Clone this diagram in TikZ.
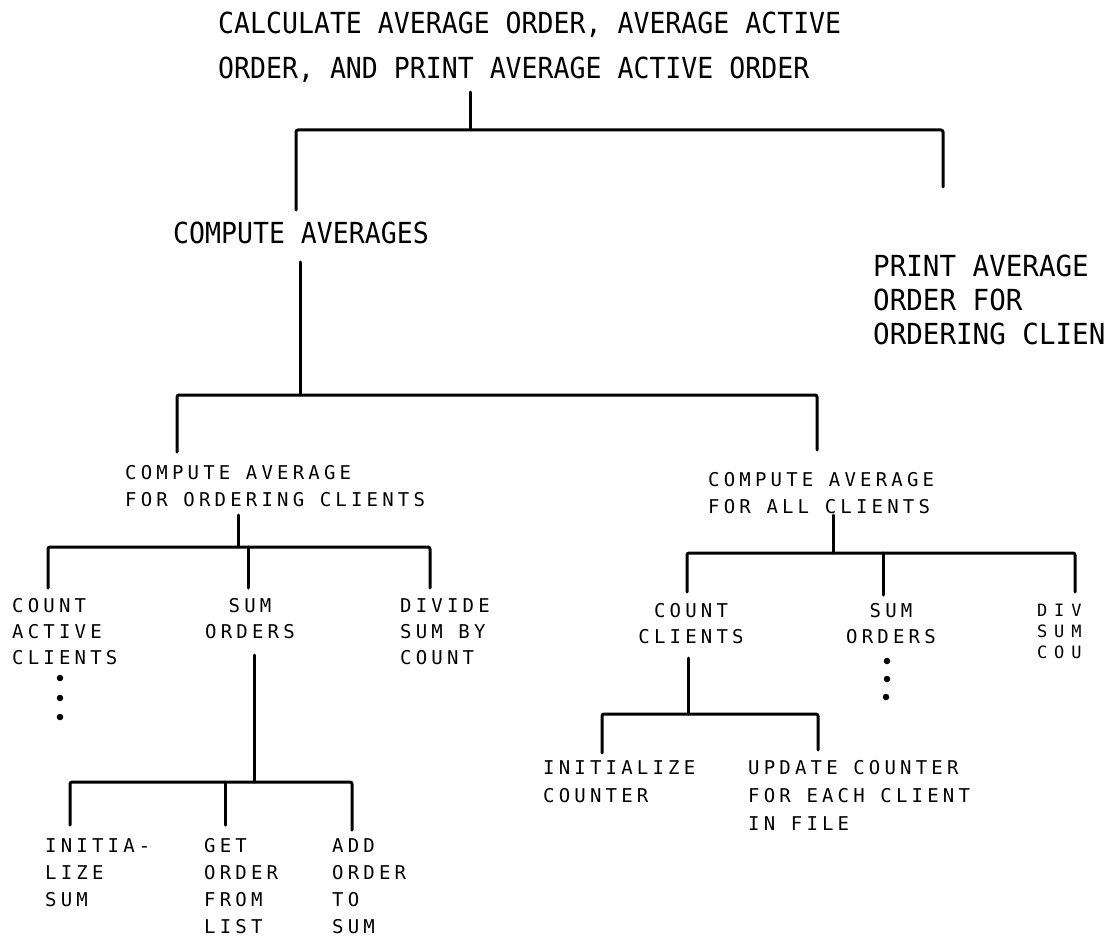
\documentclass[tikz,border=0pt]{standalone}
\usepackage{fontspec}
\newfontfamily\plotA[FakeStretch=0.915]{DejaVu Sans Mono}
\newfontfamily\plotAw[FakeStretch=0.95]{DejaVu Sans Mono}
\newfontfamily\plotB[LetterSpace=22]{DejaVu Sans Mono}
\newfontfamily\plotC[LetterSpace=40]{DejaVu Sans Mono}
\tikzset{
  tree/.style={line width=3pt, line cap=round, line join=round, rounded corners=2pt},
  big/.style={font=\plotA\fontsize{29}{45}\selectfont, anchor=north west, inner sep=0pt, align=left},
  bigmid/.style={font=\plotAw\fontsize{29}{34}\selectfont, anchor=north west, inner sep=0pt, align=left},
  small/.style={font=\plotB\fontsize{19}{27}\selectfont, anchor=north west, inner sep=0pt, align=left},
  smallc/.style={font=\plotB\fontsize{19}{26}\selectfont, anchor=north, inner sep=0pt, align=center},
  tiny/.style={font=\plotC\fontsize{17}{21}\selectfont, anchor=north west, inner sep=0pt, align=left},
  dotm/.style={circle, fill, inner sep=0pt, minimum size=6.5pt}
}
\begin{document}
\begin{tikzpicture}[x=1pt,y=-1pt]
\useasboundingbox (0,0) rectangle (1110,936);
\fill[white] (0,0) rectangle (1110,936);

% level 1
\node[big] (title) at (218,12) {CALCULATE AVERAGE ORDER, AVERAGE ACTIVE\\ORDER, AND PRINT AVERAGE ACTIVE ORDER};
% level 2
\node[big] (compavg) at (173,222) {COMPUTE AVERAGES};
\node[bigmid] (print) at (873,255) {PRINT AVERAGE\\ORDER FOR\\ORDERING CLIEN};
% level 3
\node[small] (cao) at (125,465) {COMPUTE AVERAGE\\FOR ORDERING CLIENTS};
\node[small] (caa) at (708,472) {COMPUTE AVERAGE\\FOR ALL CLIENTS};
% level 4 left
\node[small, font=\plotB\fontsize{19}{26}\selectfont] (cac) at (12,598) {COUNT\\ACTIVE\\CLIENTS};
\node[smallc] (so1) at (250,598) {SUM\\ORDERS};
\node[small, font=\plotB\fontsize{19}{26}\selectfont] (div1) at (400,598) {DIVIDE\\SUM BY\\COUNT};
% level 4 right
\node[smallc] (cc) at (691,603) {COUNT\\CLIENTS};
\node[smallc] (so2) at (891,603) {SUM\\ORDERS};
\node[tiny] (div2) at (1037,604) {DIV\\SUM\\COU};
% level 5 left
\node[small] (init) at (45,838) {INITIA-\\LIZE\\SUM};
\node[small] (get) at (204,838) {GET\\ORDER\\FROM\\LIST};
\node[small] (add) at (332,838) {ADD\\ORDER\\TO\\SUM};
% level 5 right
\node[small, font=\plotB\fontsize{19}{28}\selectfont] (initc) at (543,760) {INITIALIZE\\COUNTER};
\node[small, font=\plotB\fontsize{19}{28}\selectfont] (upd) at (748,760) {UPDATE COUNTER\\FOR EACH CLIENT\\IN FILE};

% continuation dots
\node[dotm] (d1) at (60,678) {};
\node[dotm] (d2) at (60,698) {};
\node[dotm] (d3) at (60,717) {};
\node[dotm] (e1) at (887,661) {};
\node[dotm] (e2) at (887,679) {};
\node[dotm] (e3) at (886,697) {};

% junction coordinates
\coordinate (t1a) at (470,92);  \coordinate (t1) at (470,130);
\coordinate (t1l) at (296,130); \coordinate (t1r) at (943,130);
\coordinate (t1le) at (296,210); \coordinate (t1re) at (943,187);

\coordinate (t2a) at (300,262); \coordinate (t2) at (300,395);
\coordinate (t2l) at (177,395); \coordinate (t2r) at (817,395);
\coordinate (t2le) at (177,452); \coordinate (t2re) at (817,450);

\coordinate (t3a) at (238,515); \coordinate (t3) at (238,547);
\coordinate (t3l) at (48,547); \coordinate (t3m) at (248,547); \coordinate (t3r) at (430,547);
\coordinate (t3le) at (48,588); \coordinate (t3me) at (248,588); \coordinate (t3re) at (430,588);

\coordinate (t4a) at (833,515); \coordinate (t4) at (833,553);
\coordinate (t4l) at (687,553); \coordinate (t4m) at (883,553); \coordinate (t4r) at (1075,553);
\coordinate (t4le) at (687,592); \coordinate (t4me) at (883,595); \coordinate (t4re) at (1075,592);

\coordinate (t5a) at (254,655); \coordinate (t5) at (254,782);
\coordinate (t5l) at (70,782); \coordinate (t5m) at (225,782); \coordinate (t5r) at (352,782);
\coordinate (t5le) at (70,825); \coordinate (t5me) at (225,825); \coordinate (t5re) at (352,830);

\coordinate (t6a) at (688,658); \coordinate (t6) at (688,714);
\coordinate (t6l) at (602,714); \coordinate (t6r) at (818,714);
\coordinate (t6le) at (602,753); \coordinate (t6re) at (818,750);

% connectors
\draw[tree] (t1a) -- (t1);
\draw[tree] (t1le) -- (t1l) -- (t1r) -- (t1re);
\draw[tree] (t2a) -- (t2);
\draw[tree] (t2le) -- (t2l) -- (t2r) -- (t2re);
\draw[tree] (t3a) -- (t3);
\draw[tree] (t3le) -- (t3l) -- (t3r) -- (t3re);
\draw[tree] (t3m) -- (t3me);
\draw[tree] (t4a) -- (t4);
\draw[tree] (t4le) -- (t4l) -- (t4r) -- (t4re);
\draw[tree] (t4m) -- (t4me);
\draw[tree] (t5a) -- (t5);
\draw[tree] (t5le) -- (t5l) -- (t5r) -- (t5re);
\draw[tree] (t5m) -- (t5me);
\draw[tree] (t6a) -- (t6);
\draw[tree] (t6le) -- (t6l) -- (t6r) -- (t6re);
\end{tikzpicture}
\end{document}
